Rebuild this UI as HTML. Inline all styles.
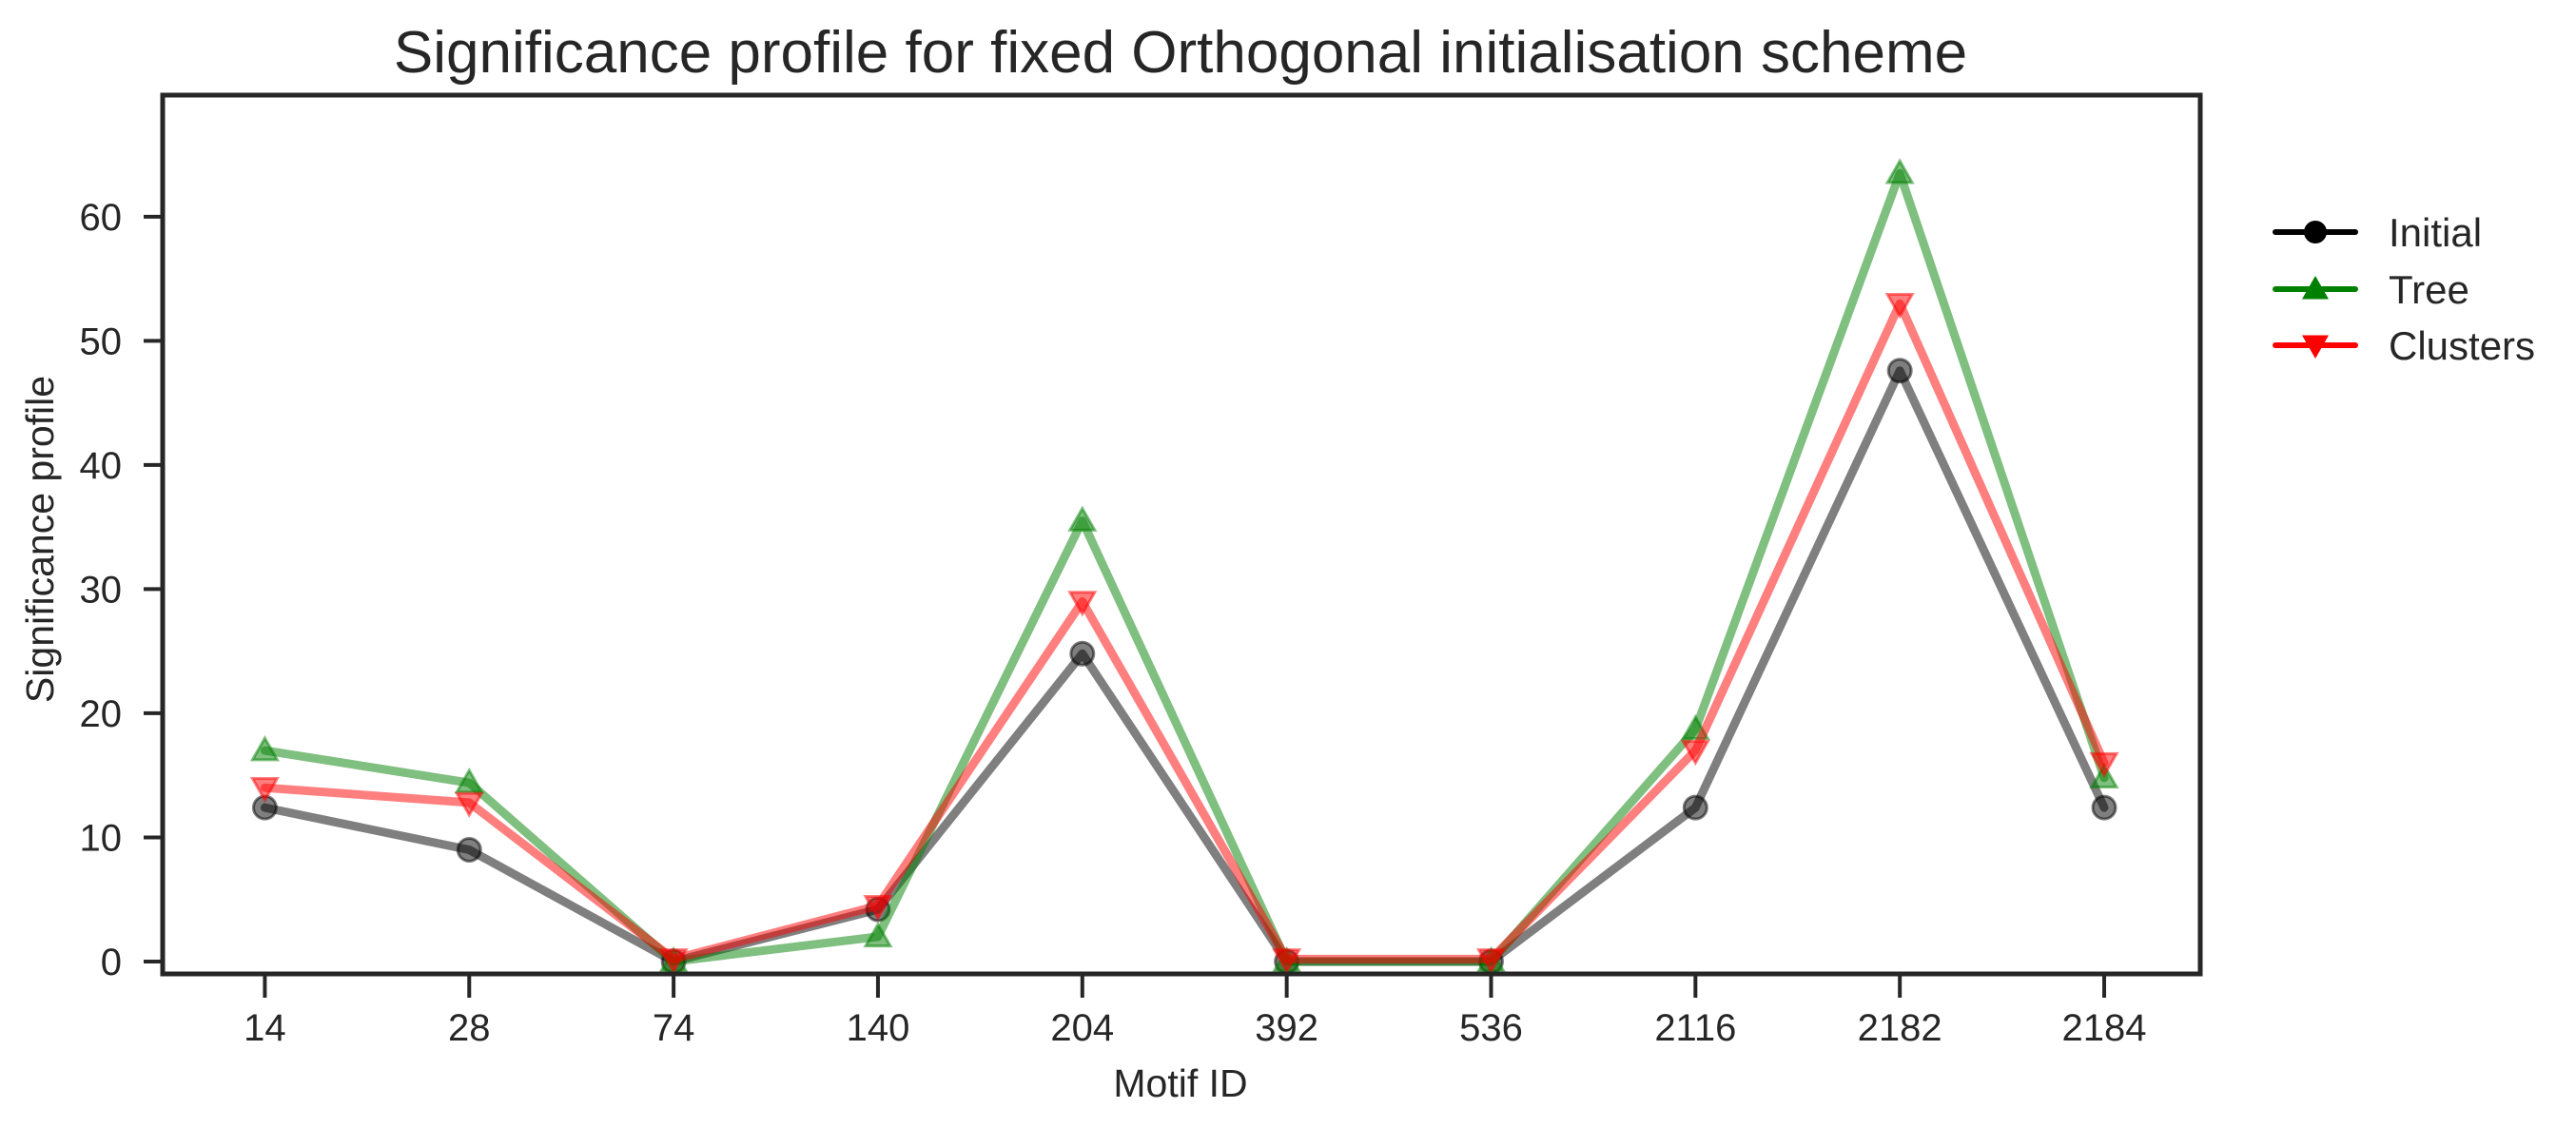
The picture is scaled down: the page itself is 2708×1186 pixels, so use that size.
<!DOCTYPE html>
<html><head><meta charset="utf-8"><style>
body{margin:0;background:#fff;}
svg{display:block;font-family:"Liberation Sans",Arial,sans-serif;}
</style></head><body>
<svg id="chart" width="2708" height="1186" viewBox="0 0 2708 1186">
<rect x="0" y="0" width="2708" height="1186" fill="#fff"/>
<text x="1241" y="76" font-size="62" fill="#262626" text-anchor="middle">Significance profile for fixed Orthogonal initialisation scheme</text>
<g id="plot"></g>
<g id="axes"></g>
<text x="1241" y="1153" font-size="41" fill="#262626" text-anchor="middle">Motif ID</text>
<text transform="translate(56,567) rotate(-90)" font-size="41" fill="#262626" text-anchor="middle">Significance profile</text>
<g id="legend"></g>
</svg>
<script>
const categories = ["14","28","74","140","204","392","536","2116","2182","2184"];
const initialValues = [12.4, 9.0, 0.0, 4.2, 24.8, 0.0, 0.0, 12.4, 47.6, 12.4];
const treeValues = [17.0, 14.4, 0.0, 2.0, 35.5, 0.0, 0.0, 18.7, 63.5, 14.8];
const clusterValues = [14.0, 12.8, 0.2, 4.5, 29.0, 0.2, 0.2, 17.0, 53.0, 16.0];
const yTicks = [0, 10, 20, 30, 40, 50, 60];
const seriesNames = ["Initial", "Tree", "Clusters"];

const NS = "http://www.w3.org/2000/svg";
const L = 171, R = 2313, T = 100, B = 1024;
const xMin = -0.5, xMax = 9.47, yMin = -1.0, yMax = 69.8;
function xScale(i){ return L + (i - xMin) / (xMax - xMin) * (R - L); }
function yScale(v){ return B - (v - yMin) / (yMax - yMin) * (B - T); }
function mk(tag, attrs, parent){ const e = document.createElementNS(NS, tag); for (const k in attrs) e.setAttribute(k, attrs[k]); parent.appendChild(e); return e; }

const plot = document.getElementById('plot');
const axes = document.getElementById('axes');
const legend = document.getElementById('legend');

function markerPath(type, cx, cy, s){
  if (type === 'up') return `M${cx},${cy - s} L${cx + s},${cy + s * 0.75} L${cx - s},${cy + s * 0.75} Z`;
  return `M${cx},${cy + s} L${cx + s},${cy - s * 0.75} L${cx - s},${cy - s * 0.75} Z`;
}

const series = [
  {vals: initialValues, color: "#000000", marker: "circle", name: "initial"},
  {vals: treeValues, color: "#008000", marker: "up", name: "tree"},
  {vals: clusterValues, color: "#ff0000", marker: "down", name: "clusters"}
];

series.forEach(s => {
  const g = mk('g', {}, plot);
  
  
  const pts = s.vals.map((v, i) => xScale(i) + ',' + yScale(v)).join(' ');
  const line = mk('polyline', {points: pts, fill: 'none', stroke: s.color, 'stroke-opacity': 0.5, 'stroke-width': 9, 'stroke-linejoin': 'round', 'stroke-linecap': 'round'}, g);
  
  
  s.vals.forEach((v, i) => {
    const cx = xScale(i), cy = yScale(v);
    let m;
    if (s.marker === 'circle') m = mk('circle', {cx: cx, cy: cy, r: 12}, g);
    else m = mk('path', {d: markerPath(s.marker, cx, cy, 13)}, g);
    m.setAttribute('fill', s.color);
    m.setAttribute('fill-opacity', 0.5);
    m.setAttribute('stroke', s.color);
    m.setAttribute('stroke-opacity', 0.5);
    m.setAttribute('stroke-width', 3);
    
    
  });
});

const frame = mk('rect', {x: L, y: T, width: R - L, height: B - T, fill: 'none', stroke: '#262626', 'stroke-width': 5}, axes);



yTicks.forEach(t => {
  const y = yScale(t);
  const tk = mk('line', {x1: L - 20, x2: L, y1: y, y2: y, stroke: '#262626', 'stroke-width': 4}, axes);
  
  
  const lb = mk('text', {x: L - 43, y: y + 14, 'font-size': 40, fill: '#262626', 'text-anchor': 'end'}, axes);
  lb.textContent = t;
  
  
});

categories.forEach((c, i) => {
  const x = xScale(i);
  const tk = mk('line', {x1: x, x2: x, y1: B, y2: B + 25, stroke: '#262626', 'stroke-width': 4}, axes);
  
  
  const lb = mk('text', {x: x, y: 1094, 'font-size': 40, fill: '#262626', 'text-anchor': 'middle'}, axes);
  lb.textContent = c;
  
  
});

const legendY = [244, 304, 363];
series.forEach((s, k) => {
  const g = mk('g', {}, legend);
  
  
  const y = legendY[k];
  mk('line', {x1: 2392, x2: 2476, y1: y, y2: y, stroke: s.color, 'stroke-width': 6, 'stroke-linecap': 'round'}, g);
  if (s.marker === 'circle') mk('circle', {cx: 2434, cy: y, r: 12, fill: s.color}, g);
  else mk('path', {d: markerPath(s.marker, 2434, y, 14), fill: s.color}, g);
  const t = mk('text', {x: 2511, y: y + 15, 'font-size': 42, fill: '#262626'}, g);
  t.textContent = seriesNames[k];
});
</script>
</body></html>
